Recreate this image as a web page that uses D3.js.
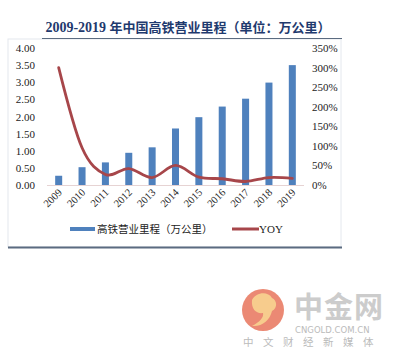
<!DOCTYPE html>
<html><head><meta charset="utf-8">
<script src="https://cdn.jsdelivr.net/npm/d3@7"></script>
<style>body{margin:0;background:#fff;}svg{display:block;}</style>
</head><body>
<svg id="c" width="399" height="360"></svg>
<script>
const titleYears = "2009-2019 ";
const titleText = "年中国高铁营业里程（单位：万公里）";
const years = ["2009","2010","2011","2012","2013","2014","2015","2016","2017","2018","2019"];
const mileage = [0.27,0.52,0.66,0.94,1.10,1.65,1.98,2.29,2.52,2.99,3.50];
const yoy = [3.00,0.95,0.27,0.42,0.19,0.50,0.20,0.16,0.09,0.19,0.17];
const leftTicks = [0,0.5,1,1.5,2,2.5,3,3.5,4];
const rightTicks = [0,0.5,1,1.5,2,2.5,3,3.5];
const legendBar = "高铁营业里程（万公里）";
const legendLine = "YOY";

const svg = d3.select("#c");
const serif = "'Liberation Serif','Times New Roman',serif";
const cjk = "'Noto Sans CJK SC','Liberation Serif',serif";

// chart frame
svg.append("rect").attr("x",8).attr("y",39).attr("width",333).attr("height",208)
  .attr("fill","#fff").attr("stroke","#e4e8ee").attr("stroke-width",1);
svg.append("line").attr("x1",8).attr("x2",342).attr("y1",247.5).attr("y2",247.5)
  .attr("stroke","#5b6b80").attr("stroke-width",2);
svg.append("line").attr("x1",42).attr("x2",342).attr("y1",38.5).attr("y2",38.5)
  .attr("stroke","#5b6b80").attr("stroke-width",1);

// title
const t = svg.append("text").attr("x",188).attr("y",32).attr("text-anchor","middle")
  .attr("font-weight","bold").attr("font-size",13).attr("fill","#1f3a6e");
t.append("tspan").attr("font-family",serif).attr("font-size",14).text(titleYears);
t.append("tspan").attr("font-family",cjk).text(titleText);

const x = d3.scaleBand().domain(years).range([47,304]).paddingInner(0.7).paddingOuter(0.35);
const yL = d3.scaleLinear().domain([0,4]).range([185,48]);
const yR = d3.scaleLinear().domain([0,3.5]).range([185,48]);

// left axis
const la = svg.append("g").attr("transform","translate(39,0)")
  .call(d3.axisLeft(yL).tickValues(leftTicks).tickFormat(d3.format(".2f")).tickSize(0).tickPadding(4));
la.select(".domain").remove();
la.selectAll("text").attr("font-family",serif).attr("font-size",11).attr("fill","#222").attr("text-anchor","end");

// right axis
const ra = svg.append("g").attr("transform","translate(310,0)")
  .call(d3.axisRight(yR).tickValues(rightTicks).tickFormat(d=>Math.round(d*100)+"%").tickSize(0).tickPadding(2));
ra.select(".domain").remove();
ra.selectAll("text").attr("font-family",serif).attr("font-size",11).attr("fill","#222");

// bars
svg.append("g").selectAll("rect").data(years).join("rect")
  .attr("x",d=>x(d)).attr("width",x.bandwidth())
  .attr("y",(d,i)=>yL(mileage[i])).attr("height",(d,i)=>yL(0)-yL(mileage[i]))
  .attr("fill","#4f81bd");

// baseline
svg.append("line").attr("x1",47).attr("x2",304).attr("y1",185.5).attr("y2",185.5)
  .attr("stroke","#e6d3d3").attr("stroke-width",1);

// x labels
const xa = svg.append("g").attr("transform","translate(0,185)")
  .call(d3.axisBottom(x).tickSize(0).tickPadding(0));
xa.select(".domain").remove();
xa.selectAll("text").attr("font-family",serif).attr("font-size",10.5).attr("fill","#222")
  .attr("text-anchor","end").attr("dy",0).attr("transform","translate(4,8) rotate(-45)");

// line
const line = d3.line().x((d,i)=>x(years[i])+x.bandwidth()/2).y(d=>yR(d)).curve(d3.curveCatmullRom.alpha(0));
svg.append("path").datum(yoy).attr("d",line).attr("fill","none")
  .attr("stroke","#a7464a").attr("stroke-width",2.8).attr("stroke-linecap","round");

// legend
svg.append("rect").attr("x",70).attr("y",227).attr("width",25).attr("height",4).attr("fill","#4f81bd");
svg.append("text").attr("x",97).attr("y",233).attr("font-family",cjk).attr("font-size",10.5)
  .attr("fill","#222").text(legendBar);
svg.append("line").attr("x1",232).attr("x2",259).attr("y1",229).attr("y2",229)
  .attr("stroke","#a7464a").attr("stroke-width",3);
svg.append("text").attr("x",259).attr("y",233).attr("font-family",serif).attr("font-size",11)
  .attr("fill","#222").text(legendLine);

// watermark
const wm = svg.append("g").attr("opacity",0.85);
wm.append("circle").attr("cx",263).attr("cy",310).attr("r",21).attr("fill","#e8755c");
wm.append("path").attr("d","M252,300 C256,292 268,291 272,298 C277,300 278,308 272,311 C270,320 262,327 252,326 C260,322 264,317 263,313 C257,314 251,310 252,300 Z")
  .attr("fill","#f6c47a");
wm.append("text").attr("x",294).attr("y",318).attr("font-family","'Noto Sans CJK SC'")
  .attr("font-size",29).attr("font-weight","bold").attr("fill","#c4c4c4").attr("letter-spacing",1).text("中金网");
wm.append("text").attr("x",295).attr("y",333).attr("font-family","'DejaVu Sans'")
  .attr("font-size",8.5).attr("fill","#b0b0b0").text("CNGOLD.COM.CN");
wm.append("text").attr("x",243).attr("y",346).attr("font-family","'Noto Sans CJK SC'")
  .attr("font-size",10.5).attr("fill","#b0b0b0").attr("letter-spacing",9.5).text("中文财经新媒体");
</script>
</body></html>
